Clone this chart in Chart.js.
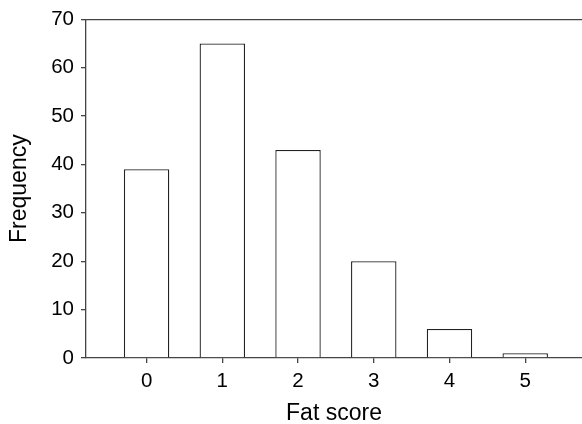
<!DOCTYPE html>
<html>
<head>
<meta charset="utf-8">
<script src="https://cdn.jsdelivr.net/npm/chart.js@4/dist/chart.umd.min.js"></script>
<style>
  html, body { margin: 0; padding: 0; background: #fff; }
  #wrap { width: 582px; height: 424px; }
</style>
</head>
<body>
<div id="wrap"><canvas id="chart" width="582" height="424"></canvas></div>
<script>
// --- data ---
const fatScores = [0, 1, 2, 3, 4, 5];
const frequency = [39, 65, 43, 20, 6, 1];
const yTicks = [0, 10, 20, 30, 40, 50, 60, 70];

const axisColor = '#444';
const barEdge = '#222';
const fontFamily = '"Liberation Sans", Arial, Helvetica, sans-serif';

Chart.defaults.font.family = fontFamily;
Chart.defaults.color = '#000';

const ctx = document.getElementById('chart');
new Chart(ctx, {
    type: 'bar',
    data: {
        datasets: [{
            data: fatScores.map((s, i) => ({ x: s, y: frequency[i] })),
            backgroundColor: '#fff',
            borderColor: barEdge,
            borderWidth: 1.3,
            categoryPercentage: 1,
            barPercentage: 0.6,
            borderSkipped: 'bottom'
        }]
    },
    options: {
        responsive: false, animation: false,
        layout: { padding: 0 },
        plugins: { legend: { display: false }, tooltip: { enabled: false } },
        scales: {
            x: {
                type: 'linear', position: 'bottom', min: -0.8, max: 5.75, offset: false,
                afterBuildTicks: s => { s.ticks = fatScores.map(v => ({ value: v })); },
                afterFit: s => { s.height = 66; },
                ticks: { font: { size: 20.5 }, padding: 6, autoSkip: false },
                grid: { display: true, offset: false, drawOnChartArea: false, drawTicks: true, tickLength: 5, color: axisColor, lineWidth: 1.3 },
                border: { display: true, color: axisColor, width: 1.3 },
                // bottom titles are offset by padding.bottom
                title: { display: true, text: 'Fat score', font: { size: 23 }, padding: { top: 0, bottom: -3 } }
            },
            xTop: {
                type: 'linear', position: 'top', min: -0.8, max: 5.75, offset: false,
                afterFit: s => { s.height = 19; },
                ticks: { display: false },
                grid: { display: false },
                border: { display: true, color: axisColor, width: 1.3 }
            },
            y: {
                min: 0, max: 70,
                afterBuildTicks: s => { s.ticks = yTicks.map(v => ({ value: v })); },
                afterFit: s => { s.width = 86; },
                ticks: { font: { size: 20.5 }, padding: 7 },
                grid: { display: true, drawOnChartArea: false, drawTicks: true, tickLength: 5, color: axisColor, lineWidth: 1.3 },
                border: { display: true, color: axisColor, width: 1.3 },
                title: { display: true, text: 'Frequency', font: { size: 23 }, padding: { top: 6, bottom: 0 } }
            }
        }
    }
});
</script>
</body>
</html>
